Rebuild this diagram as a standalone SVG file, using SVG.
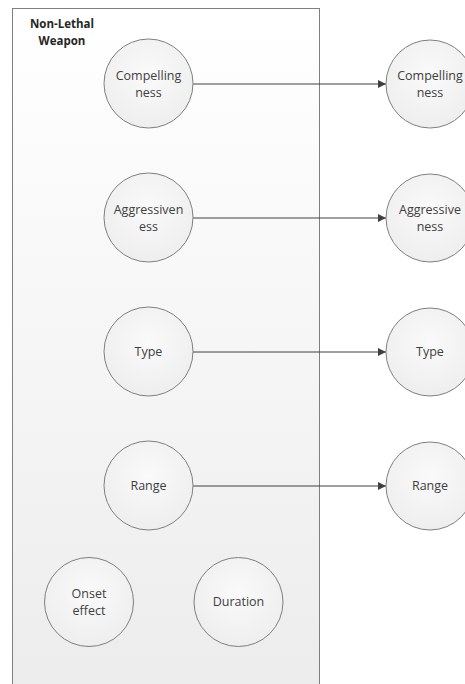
<svg xmlns="http://www.w3.org/2000/svg" width="465" height="684" viewBox="0 0 465 684">
  <defs>
    <linearGradient id="boxFill" x1="0" y1="0" x2="0" y2="1">
      <stop offset="0" stop-color="#ffffff"/>
      <stop offset="1" stop-color="#ececec"/>
    </linearGradient>
    <radialGradient id="nodeFill" cx="0.5" cy="0.4" r="0.6">
      <stop offset="0" stop-color="#fafafa"/>
      <stop offset="1" stop-color="#eeeeee"/>
    </radialGradient>
    <marker id="arrow" viewBox="0 0 10 10" refX="10" refY="5" markerWidth="8" markerHeight="8" markerUnits="userSpaceOnUse" orient="auto">
      <path d="M0,0 L10,5 L0,10 z" fill="#404040"/>
    </marker>
  </defs>
  <style>
    .node circle { fill: url(#nodeFill); stroke: #7f7f7f; stroke-width: 1; }
    .node text { font-family: "Open Sans", "Liberation Sans", sans-serif; font-size: 12.5px; fill: #404040; text-anchor: middle; }
    .edge { stroke: #404040; stroke-width: 1; fill: none; marker-end: url(#arrow); }
    .title { font-family: "Open Sans", "Liberation Sans", sans-serif; font-size: 11.5px; font-weight: bold; fill: #262626; text-anchor: middle; }
  </style>
  <rect width="465" height="684" fill="#ffffff"/>

  <!-- container -->
  <g id="non-lethal-weapon">
    <rect x="12.5" y="8.5" width="307" height="690" fill="url(#boxFill)" stroke="#7f7f7f" stroke-width="1"/>
    <text class="title" x="62" y="28">Non-Lethal</text>
    <text class="title" x="62" y="45">Weapon</text>
  </g>

  <!-- connectors -->
  <g id="connectors">
    <line class="edge" x1="193" y1="84" x2="386" y2="84"/>
    <line class="edge" x1="193" y1="218" x2="386" y2="218"/>
    <line class="edge" x1="193" y1="352" x2="386" y2="352"/>
    <line class="edge" x1="193" y1="486" x2="386" y2="486"/>
  </g>

  <!-- inner nodes -->
  <g id="compellingness-a" class="node">
    <circle cx="148.5" cy="83.5" r="44.5"/>
    <text x="148.5" y="80">Compelling</text>
    <text x="148.5" y="97">ness</text>
  </g>
  <g id="aggressiveness-a" class="node">
    <circle cx="148.5" cy="217.5" r="44.5"/>
    <text x="148.5" y="214">Aggressiven</text>
    <text x="148.5" y="231">ess</text>
  </g>
  <g id="type-a" class="node">
    <circle cx="148.5" cy="351.5" r="44.5"/>
    <text x="148.5" y="356">Type</text>
  </g>
  <g id="range-a" class="node">
    <circle cx="148.5" cy="485.5" r="44.5"/>
    <text x="148.5" y="490">Range</text>
  </g>
  <g id="onset-effect" class="node">
    <circle cx="89" cy="602" r="44.5"/>
    <text x="89" y="598">Onset</text>
    <text x="89" y="615">effect</text>
  </g>
  <g id="duration" class="node">
    <circle cx="238.5" cy="602" r="44.5"/>
    <text x="238.5" y="606">Duration</text>
  </g>

  <!-- outer nodes -->
  <g id="compellingness-b" class="node">
    <circle cx="430" cy="84" r="44"/>
    <text x="430" y="80">Compelling</text>
    <text x="430" y="97">ness</text>
  </g>
  <g id="aggressiveness-b" class="node">
    <circle cx="430" cy="218" r="44"/>
    <text x="430" y="214">Aggressive</text>
    <text x="430" y="231">ness</text>
  </g>
  <g id="type-b" class="node">
    <circle cx="430" cy="352" r="44"/>
    <text x="430" y="356">Type</text>
  </g>
  <g id="range-b" class="node">
    <circle cx="430" cy="486" r="44"/>
    <text x="430" y="490">Range</text>
  </g>
</svg>
